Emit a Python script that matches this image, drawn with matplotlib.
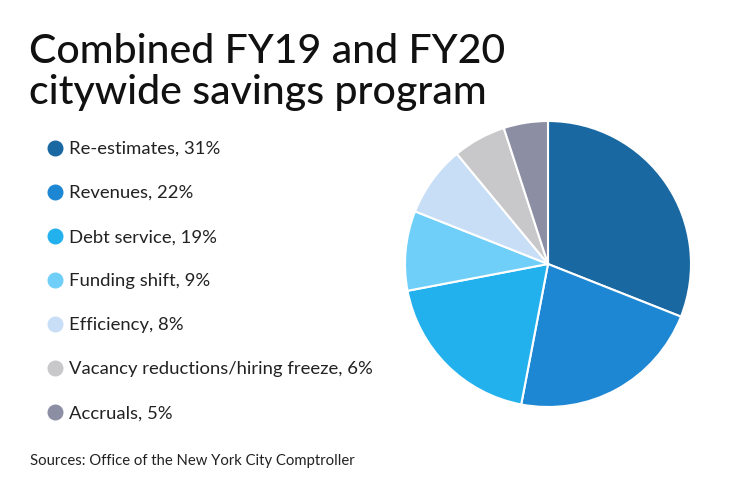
import matplotlib
matplotlib.use("Agg")
import matplotlib.pyplot as plt
from matplotlib.lines import Line2D

categories = ["Re-estimates", "Revenues", "Debt service", "Funding shift",
              "Efficiency", "Vacancy reductions/hiring freeze", "Accruals"]
values = [31, 22, 19, 9, 8, 6, 5]
colors = ["#1a68a2", "#1e87d3", "#23b1ee", "#6fcff8", "#c8def6", "#c8c8ca", "#8c8ea4"]
title_lines = ["Combined FY19 and FY20", "citywide savings program"]
source = "Sources: Office of the New York City Comptroller"

W, H = 740, 482
plt.rcParams['font.family'] = ['Lato', 'DejaVu Sans']
fig = plt.figure(figsize=(W / 100, H / 100), dpi=100)
fig.patch.set_facecolor("white")

cx, cy, r = 548, 264, 143
ax = fig.add_axes([(cx - r) / W, 1 - (cy + r) / H, 2 * r / W, 2 * r / H])
ax.pie(values, colors=colors, startangle=90, counterclock=False, radius=1.0,
       wedgeprops=dict(edgecolor="white", linewidth=1.5))
ax.set_xlim(-1, 1)
ax.set_ylim(-1, 1)
ax.set_aspect("equal")
ax.axis("off")

for line, base in zip(title_lines, [63, 104]):
    fig.text(29 / W, 1 - base / H, line, fontsize=29.5, fontweight="medium",
             color="#111111", va="baseline", ha="left")

handles = [Line2D([0], [0], marker="o", linestyle="none", markersize=10.5,
                  markerfacecolor=c, markeredgecolor=c) for c in colors]
labels = [f"{c}, {v}%" for c, v in zip(categories, values)]
fig.legend(handles, labels, loc="upper left", bbox_to_anchor=(47.5 / W, 1 - 141 / H),
           frameon=False, fontsize=13.3, labelspacing=1.52, handlelength=0.8,
           handletextpad=0.36, borderaxespad=0, borderpad=0, labelcolor="#222222")

fig.text(30 / W, 1 - 461 / H, source, fontsize=10.7, color="#222222", va="center", ha="left")

fig.savefig("out.png", dpi=100)
